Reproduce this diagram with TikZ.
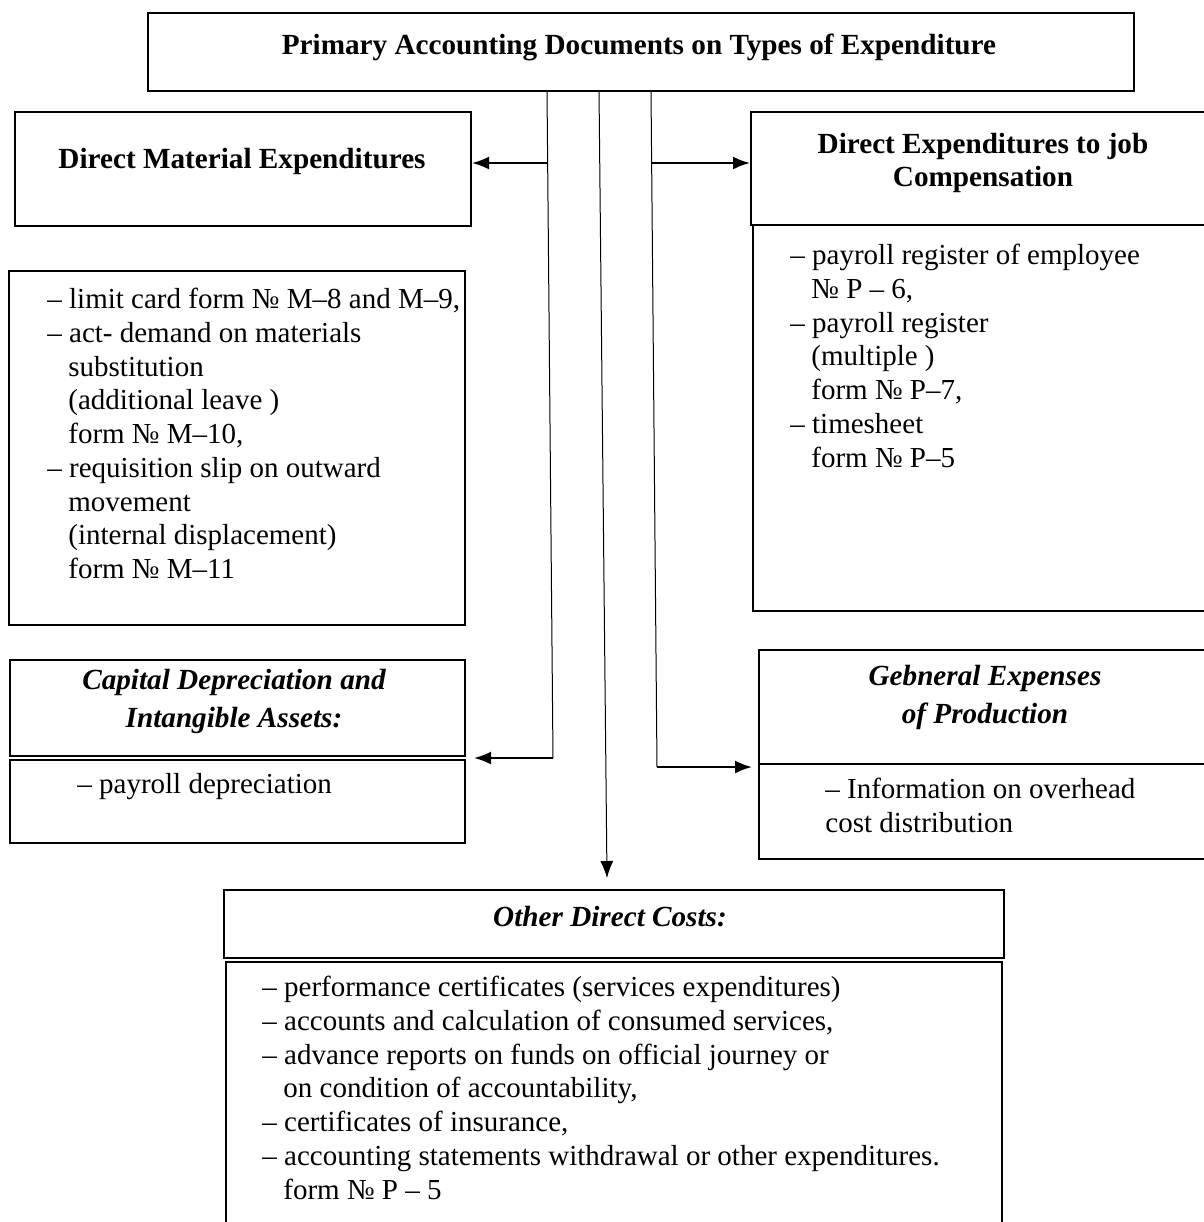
\documentclass[tikz,border=0pt]{standalone}
\usepackage{fontspec}
\setmainfont{Liberation Serif}
\usetikzlibrary{arrows.meta}

\newcommand{\ind}{\hspace*{10.5pt}}

\tikzset{
	box/.style={draw, line width=1pt, inner sep=0pt, anchor=north west},
	head/.style={inner sep=0pt, align=center, font=\fontsize{14.6}{16.5}\selectfont\bfseries},
	ihead/.style={inner sep=0pt, align=center, font=\fontsize{14.6}{19}\selectfont\bfseries\itshape},
	list/.style={inner sep=0pt, align=left, anchor=north west, font=\fontsize{14.5}{16.85}\selectfont},
	trunk/.style={line width=0.5pt},
	tip/.style={-{Latex[length=8.5pt, width=6.5pt]}},
	branch/.style={tip, line width=1pt},
}

\begin{document}
\begin{tikzpicture}[x=0.5pt, y=-0.5pt]
				\useasboundingbox (0,0) rectangle (1204,1222);
				% boxes
				\node[box, minimum width=493pt, minimum height=39pt] (doc) at (147,12) {};
				\node[box, minimum width=228pt, minimum height=57pt] (dmat) at (14,111) {};
				\node[box, minimum width=228pt, minimum height=177pt] (dmatlist) at (8,270) {};
				\node[box, minimum width=235pt, minimum height=56.5pt] (djob) at (750,111) {};
				\node[box, minimum width=234pt, minimum height=193pt] (djoblist) at (752,224) {};
				\node[box, minimum width=227.5pt, minimum height=48pt] (capd) at (9,659) {};
				\node[box, minimum width=227.5pt, minimum height=41.5pt] (capdlist) at (9,759) {};
				\node[box, minimum width=231pt, minimum height=57pt] (genp) at (758,649) {};
				\node[box, minimum width=231pt, minimum height=47.5pt] (genplist) at (758,763) {};
				\node[box, minimum width=390pt, minimum height=34pt] (other) at (223,889) {};
				\node[box, minimum width=388pt, minimum height=139.5pt] (otherlist) at (225,961) {};
				% texts
				\node[head, anchor=base] (doctext) at (639,54) {Primary Accounting Documents on Types of Expenditure};
				\node[head, anchor=base] (dmattext) at (242,168) {Direct Material Expenditures};
				\node[head, anchor=north] (djobtext) at (983,133) {Direct Expenditures to job\\Compensation};
				\node[ihead, anchor=north] (capdtext) at (234,669) {Capital Depreciation and\\Intangible Assets:};
				\node[ihead, anchor=north] (genptext) at (985,665) {Gebneral Expenses\\of Production};
				\node[ihead, anchor=base] (othertext) at (610,926) {Other Direct Costs:};
				\node[list] (dmatitems) at (47,288) {– limit card form № M–8 and M–9,\\
					– act- demand on materials\\
					\ind substitution\\
					\ind (additional leave )\\
					\ind form № M–10,\\
					– requisition slip on outward\\
					\ind movement\\
					\ind (internal displacement)\\
					\ind form № M–11};
				\node[list] (djobitems) at (790,244) {– payroll register of employee\\
					\ind № P – 6,\\
					– payroll register\\
					\ind (multiple )\\
					\ind form № P–7,\\
					– timesheet\\
					\ind form № P–5};
				\node[list] (capditems) at (77,773) {– payroll depreciation};
				\node[list] (genpitems) at (825,778) {– Information on overhead\\cost distribution};
				\node[list] (otheritems) at (262,976) {– performance certificates (services expenditures)\\
					– accounts and calculation of consumed services,\\
					– advance reports on funds on official journey or\\
					\ind on condition of accountability,\\
					– certificates of insurance,\\
					– accounting statements withdrawal or other expenditures.\\
					\ind form № P – 5};
				% connectors
				\coordinate (ltop) at (547,90);
				\coordinate (lbend) at (553,758);
				\coordinate (lfork) at (548,163);
				\coordinate (mtop) at (599,90);
				\coordinate (mend) at (607,878);
				\coordinate (rtop) at (651,90);
				\coordinate (rbend) at (657,767);
				\coordinate (rfork) at (652,163);
				\draw[trunk] (ltop) -- (lbend);
				\draw[trunk] (rtop) -- (rbend);
				\draw[trunk, tip] (mtop) -- (mend);
				\draw[branch] (lfork) -- (lfork -| dmat.east);
				\draw[branch] (rfork) -- (rfork -| djob.west);
				\draw[branch, shorten >=4pt] (lbend) -- (lbend -| capd.east);
				\draw[branch, shorten >=3pt] (rbend) -- (rbend -| genp.west);
			\end{tikzpicture}
\end{document}
